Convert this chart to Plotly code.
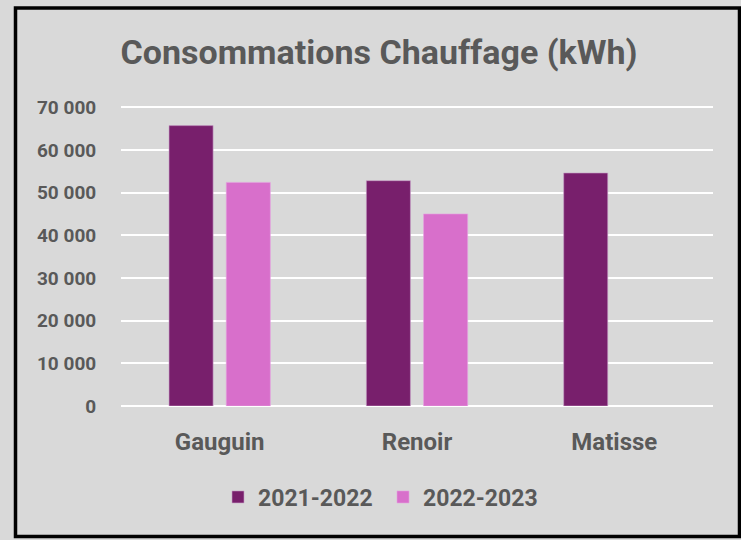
import plotly.graph_objects as go

# data
sites = ["Gauguin", "Renoir", "Matisse"]
conso_2021_2022 = [65700, 52800, 54600]
conso_2022_2023 = [52400, 45000, None]
y_ticks = [0, 10000, 20000, 30000, 40000, 50000, 60000, 70000]

DARK = "#781f6c"
LIGHT = "#d86fcb"
TXT = "#595959"
BG = "#d9d9d9"
FONT = "Roboto"

fig = go.Figure()
fig.add_trace(go.Bar(
    x=sites, y=conso_2021_2022, name="2021-2022",
    marker=dict(color=DARK, line=dict(color="rgba(200,160,200,0.6)", width=1)),
))
fig.add_trace(go.Bar(
    x=sites, y=conso_2022_2023, name="2022-2023",
    marker=dict(color=LIGHT, line=dict(color="rgba(230,160,225,0.6)", width=1)),
))

# plot area in pixels (y range goes a bit above 70 000 so its gridline shows)
L, R, T, B = 121, 713, 103, 406
W, H = R - L, B - T


def px(x):
    return (x - L) / W


def py(y):
    return (B - y) / H


fig.add_shape(type="rect", xref="paper", yref="paper",
              x0=px(15.5), x1=px(739.5), y0=py(536.5), y1=py(8),
              line=dict(color="black", width=3.5), layer="above")

fig.update_layout(
    width=741, height=540,
    paper_bgcolor=BG, plot_bgcolor=BG,
    margin=dict(l=L, r=741 - R, t=T, b=540 - B),
    separators=", ",
    barmode="group", bargap=0.42, bargroupgap=0.23,
    title=dict(text="<b>Consommations Chauffage (kWh)</b>",
               font=dict(family=FONT, size=34, color=TXT),
               x=379 / 741, xanchor="center", y=1 - 52 / 540, yanchor="middle"),
    font=dict(family=FONT, color=TXT),
    showlegend=True,
    legend=dict(orientation="h", x=px(218), xanchor="left",
                y=py(497), yanchor="middle",
                font=dict(family=FONT, size=23, color=TXT, weight="bold"),
                itemwidth=30, entrywidth=120, bgcolor="rgba(0,0,0,0)"),
    xaxis=dict(showgrid=False, showline=False, zeroline=False,
               ticks="outside", ticklen=14, tickcolor="rgba(0,0,0,0)",
               tickfont=dict(family=FONT, size=24, color=TXT, weight="bold")),
    yaxis=dict(range=[0, 71000], tickvals=y_ticks, tickformat=",d",
               showgrid=True, gridcolor="white", gridwidth=1.5,
               zeroline=True, zerolinecolor="white", zerolinewidth=1.5,
               showline=False, ticks="outside", ticklen=20,
               tickcolor="rgba(0,0,0,0)",
               tickfont=dict(family=FONT, size=19, color=TXT, weight="bold")),
)

fig.write_html("out.html", config=dict(displayModeBar=False),
               post_script="document.body.style.margin='0';"
                           "document.body.style.background='#d9d9d9';")
